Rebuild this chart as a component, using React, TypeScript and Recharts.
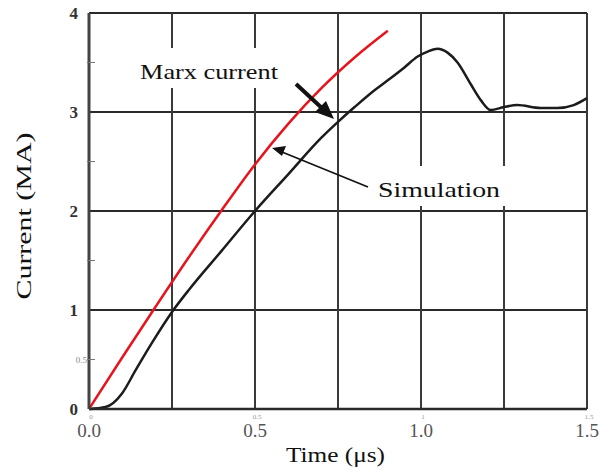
import React from "react";
import {
  LineChart,
  Line,
  XAxis,
  YAxis,
  CartesianGrid,
} from "recharts";

// Simulated current (black trace)
const blackTime = [
  0, 0.05, 0.1, 0.14, 0.19, 0.25, 0.3, 0.4, 0.5, 0.6, 0.7, 0.75, 0.8, 0.86,
  0.9, 0.95, 0.99, 1.02, 1.05, 1.08, 1.11, 1.15, 1.18, 1.21, 1.25, 1.29, 1.36,
  1.41, 1.46, 1.5,
];
const blackCurrent = [
  0, 0.02, 0.16, 0.39, 0.67, 0.98, 1.2, 1.6, 2.0, 2.37, 2.74, 2.9, 3.05, 3.22,
  3.32, 3.45, 3.56, 3.61, 3.64, 3.6, 3.5, 3.28, 3.12, 3.02, 3.05, 3.07, 3.04,
  3.04, 3.07, 3.14,
];

// Red trace
const redTime = [0, 0.1, 0.2, 0.3, 0.4, 0.5, 0.6, 0.7, 0.8, 0.9];
const redCurrent = [0, 0.52, 1.03, 1.53, 2.01, 2.47, 2.88, 3.24, 3.55, 3.82];

const xTicks = [0, 0.25, 0.5, 0.75, 1.0, 1.25, 1.5];
const xGrid = [0.25, 0.5, 0.75, 1.0, 1.25, 1.5];
const yTicks = [0, 0.5, 1, 1.5, 2, 2.5, 3, 3.5, 4];
const yGrid = [1, 2, 3, 4];

const blackData = blackTime.map((t, i) => ({ t, i: blackCurrent[i] }));
const redData = redTime.map((t, i) => ({ t, i: redCurrent[i] }));

const SERIF = "'Liberation Serif', 'DejaVu Serif', serif";

const XTick = (props: any) => {
  const { x, y, payload } = props;
  const v: number = payload.value;
  const isMajor = Math.abs(v * 2 - Math.round(v * 2)) < 1e-6;
  if (!isMajor) return <g />;
  const small = v === 0 ? "0" : v === 1 ? "1" : v.toString();
  return (
    <g>
      <text x={x + 2} y={y + 10} fontSize={7} fill="#999" textAnchor="middle" fontFamily={SERIF}>
        {small}
      </text>
      <text x={x} y={y + 28} fontSize={19} fill="#555" textAnchor="middle" fontFamily={SERIF}>
        {v.toFixed(1)}
      </text>
    </g>
  );
};

const YTick = (props: any) => {
  const { x, y, payload } = props;
  const v: number = payload.value;
  if (Number.isInteger(v)) {
    return (
      <text
        x={x - 11}
        y={y + 6}
        fontSize={17}
        fontWeight={700}
        fill="#333"
        textAnchor="end"
        fontFamily={SERIF}
      >
        {v}
      </text>
    );
  }
  return (
    <g>
      <line x1={x - 2} x2={x + 6} y1={y} y2={y} stroke="#777" strokeWidth={1} />
      {v === 0.5 && (
        <text x={x - 2} y={y + 3} fontSize={9} fill="#888" textAnchor="end" fontFamily={SERIF}>
          0.5
        </text>
      )}
    </g>
  );
};

const Annotations = () => (
  <svg
    width={602}
    height={468}
    style={{ position: "absolute", left: 0, top: 0, pointerEvents: "none" }}
  >
    <rect x={134} y={48} width={150} height={40} fill="#fff" />
    <text x={140} y={79} fontSize={22} fontFamily={SERIF} fill="#111" textLength={138} lengthAdjust="spacingAndGlyphs">
      Marx current
    </text>
    <rect x={372} y={166} width={134} height={40} fill="#fff" />
    <text x={378} y={197} fontSize={22} fontFamily={SERIF} fill="#111" textLength={122} lengthAdjust="spacingAndGlyphs">
      Simulation
    </text>

    {/* thick pointer to the black trace */}
    <line x1={296} y1={84} x2={324} y2={110} stroke="#111" strokeWidth={4} />
    <polygon points="334,119 315,112 326,101" fill="#111" />

    {/* thin pointer to the red trace */}
    <line x1={368} y1={187} x2={282} y2={152} stroke="#111" strokeWidth={1.6} />
    <polygon points="272,148 286,146 282,156" fill="#111" />

    <text x={286} y={462} fontSize={20} fontFamily={SERIF} fill="#111" textLength={99} lengthAdjust="spacingAndGlyphs">
      Time (μs)
    </text>
    <text
      x={0}
      y={0}
      transform="translate(31 216) rotate(-90)"
      fontSize={21}
      fontFamily={SERIF}
      fill="#111"
      textAnchor="middle"
      textLength={167}
      lengthAdjust="spacingAndGlyphs"
    >
      Current (MA)
    </text>
  </svg>
);

export default function App() {
  return (
    <div style={{ position: "absolute", left: 0, top: 0, width: 602, height: 468, background: "#fff" }}>
      <LineChart width={602} height={468} margin={{ top: 13, right: 15, bottom: 0, left: 0 }}>
        <CartesianGrid
          vertical={false}
          horizontalValues={yGrid}
          stroke="#2a2a2a"
          strokeWidth={2}
        />
        <CartesianGrid
          horizontal={false}
          verticalValues={xGrid}
          stroke="#3a3a3a"
          strokeWidth={2}
        />
        <XAxis
          dataKey="t"
          type="number"
          domain={[0, 1.5]}
          ticks={xTicks}
          height={59}
          tickSize={0}
          tickMargin={0}
          tickLine={false}
          axisLine={{ stroke: "#2a2a2a", strokeWidth: 2.5 }}
          tick={<XTick />}
          interval={0}
          allowDuplicatedCategory={false}
        />
        <YAxis
          type="number"
          domain={[0, 4]}
          ticks={yTicks}
          width={89}
          tickSize={0}
          tickMargin={0}
          tickLine={false}
          axisLine={{ stroke: "#444", strokeWidth: 3 }}
          tick={<YTick />}
          interval={0}
        />
        <Line
          data={blackData}
          dataKey="i"
          type="monotone"
          stroke="#1c1c1c"
          strokeWidth={2.5}
          dot={false}
          isAnimationActive={false}
        />
        <Line
          data={redData}
          dataKey="i"
          type="monotone"
          stroke="#e8141c"
          strokeWidth={2.5}
          dot={false}
          isAnimationActive={false}
        />
      </LineChart>
      <Annotations />
    </div>
  );
}
